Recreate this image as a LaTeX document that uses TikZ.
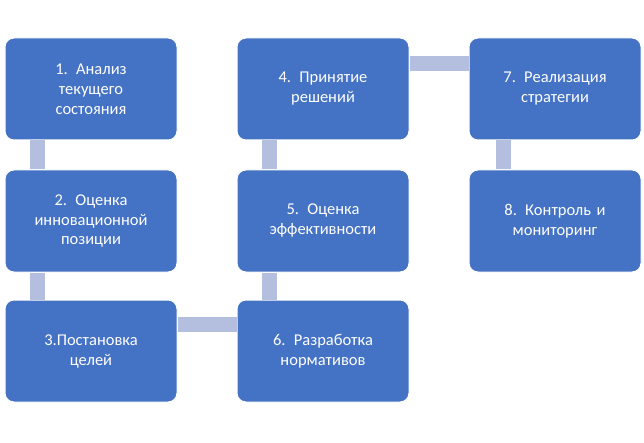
\documentclass[tikz,border=0pt]{standalone}
\usepackage{fontspec}
\setmainfont{Carlito}
\usepackage{xcolor}
\usetikzlibrary{positioning}
\definecolor{boxblue}{HTML}{4472C4}
\definecolor{linkgray}{HTML}{B4BEDF}

\begin{document}
\begin{tikzpicture}
		[
			x=1pt,y=1pt,
			stage/.style={
					fill=boxblue,draw=white,line width=1pt,rounded corners=9pt,
					minimum width=172pt,minimum height=102pt,text width=150pt,
					align=center,text=white,font=\fontsize{16.5}{20}\selectfont},
			link/.style={draw=linkgray,line width=15pt}]
		\useasboundingbox (0,0) rectangle (644,442);
		% stages
		\node[stage] (Analiz) at (91,353) {1. Анализ\\текущего\\состояния};
		\node[stage] (Ocenka) at (91,221) {2. Оценка\\инновационной\\позиции};
		\node[stage] (Celi) at (91,91) {3.Постановка\\целей};
		\node[stage] (Resh) at (323,353) {4. Принятие\\решений};
		\node[stage] (Effekt) at (323,221) {5. Оценка\\эффективности};
		\node[stage] (Norm) at (323,91) {6. Разработка\\нормативов};
		\node[stage] (Real) at (555,353) {7. Реализация\\стратегии};
		\node[stage] (Kontr) at (555,221) {8. Контроль и\\мониторинг};
		% links
		\begin{scope}[on background layer/.style={}]
			\draw[link] ([xshift=33pt]Analiz.south west) -- ([xshift=33pt]Ocenka.north west);
			\draw[link] ([xshift=33pt]Ocenka.south west) -- ([xshift=33pt]Celi.north west);
			\draw[link] ([yshift=-25pt]Celi.north east) -- ([yshift=-25pt]Norm.north west);
			\draw[link] ([xshift=33pt]Effekt.south west) -- ([xshift=33pt]Norm.north west);
			\draw[link] ([xshift=33pt]Resh.south west) -- ([xshift=33pt]Effekt.north west);
			\draw[link] ([yshift=-26pt]Resh.north east) -- ([yshift=-26pt]Real.north west);
			\draw[link] ([xshift=35pt]Real.south west) -- ([xshift=35pt]Kontr.north west);
		\end{scope}
	\end{tikzpicture}
\end{document}
